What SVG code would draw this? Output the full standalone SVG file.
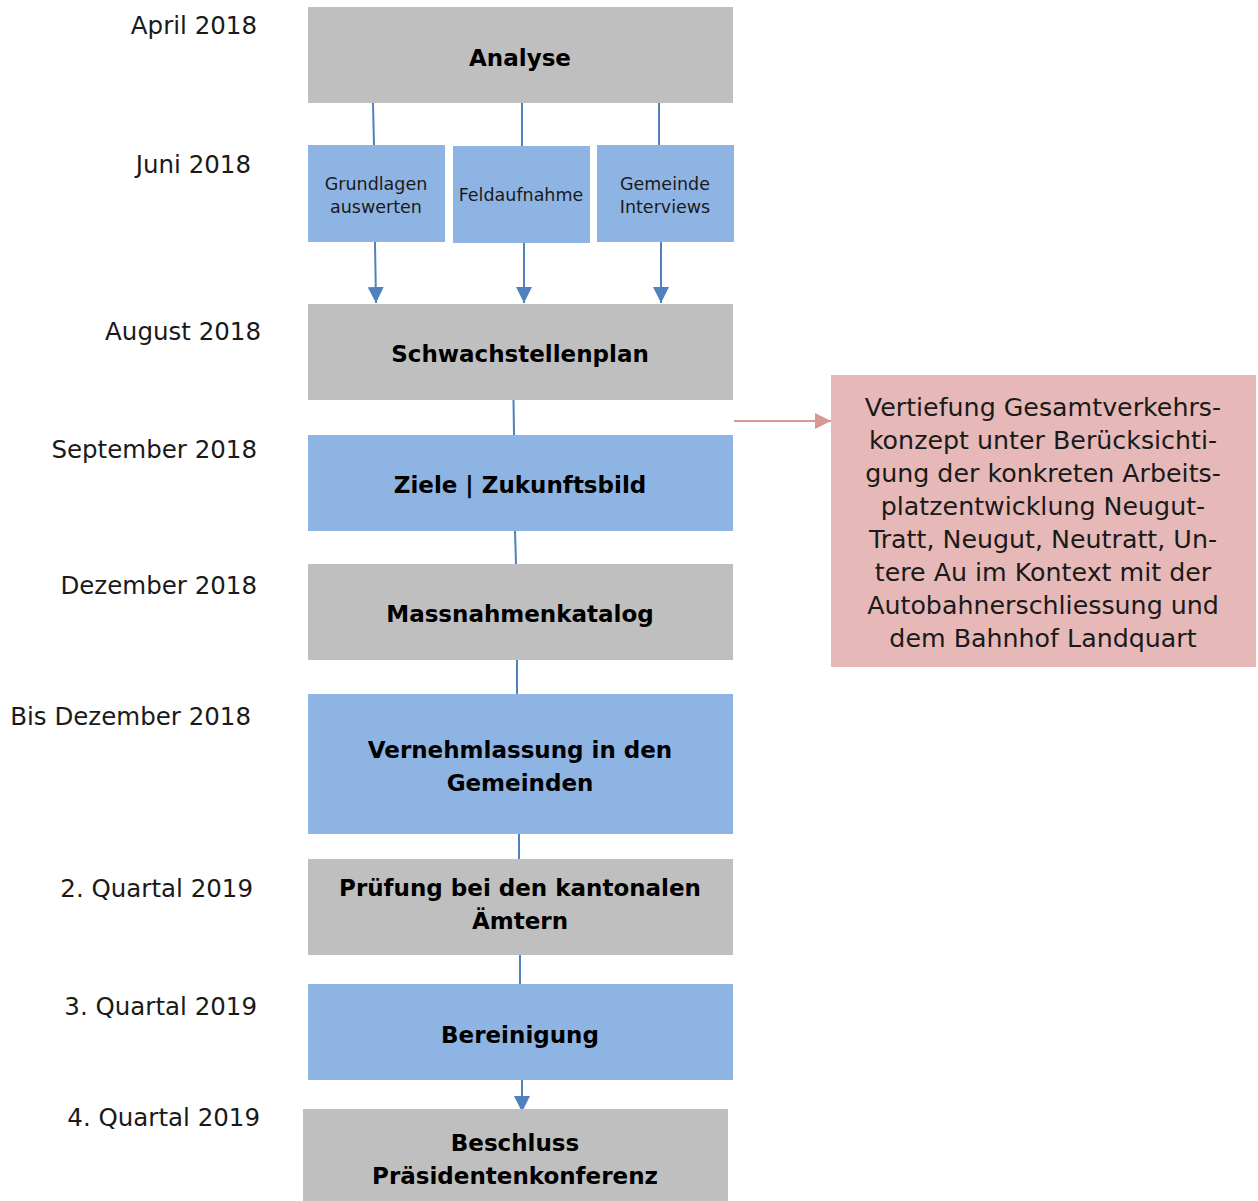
<svg xmlns="http://www.w3.org/2000/svg" width="1258" height="1201" viewBox="0 0 1258 1201">
<style>
.gray{fill:#BFBFBF}
.blue{fill:#8EB4E3}
.pink{fill:#E6B9B8}
.date{font-family:"DejaVu Sans",sans-serif;font-size:24.5px;fill:#1a1a1a;text-anchor:end}
.bt{font-family:"DejaVu Sans",sans-serif;font-size:23px;font-weight:bold;fill:#000;text-anchor:middle}
.st{font-family:"DejaVu Sans",sans-serif;font-size:17.5px;fill:#1a1a1a;text-anchor:middle}
.pt{font-family:"DejaVu Sans",sans-serif;font-size:25.3px;fill:#1a1a1a;text-anchor:middle}
.ln{stroke:#4F81BD;stroke-width:2;fill:none}
.lp{stroke:#D99694;stroke-width:2;fill:none}
</style>
<defs>
<marker id="ab" viewBox="0 0 16 16" refX="16" refY="8" markerWidth="16" markerHeight="16" markerUnits="userSpaceOnUse" orient="auto"><path d="M0,0 L16,8 L0,16 Z" fill="#4F81BD"/></marker>
<marker id="ap" viewBox="0 0 16 16" refX="16" refY="8" markerWidth="16" markerHeight="16" markerUnits="userSpaceOnUse" orient="auto"><path d="M0,0 L16,8 L0,16 Z" fill="#D99694"/></marker>
</defs>
<rect width="1258" height="1201" fill="#fff"/>
<g id="dates">
<text class="date" x="257" y="34">April 2018</text>
<text class="date" x="251" y="173">Juni 2018</text>
<text class="date" x="261" y="340">August 2018</text>
<text class="date" x="257" y="458">September 2018</text>
<text class="date" x="257" y="594">Dezember 2018</text>
<text class="date" x="251" y="725">Bis Dezember 2018</text>
<text class="date" x="253" y="897">2. Quartal 2019</text>
<text class="date" x="257" y="1015">3. Quartal 2019</text>
<text class="date" x="260" y="1126">4. Quartal 2019</text>
</g>
<g id="connectors">
<line class="ln" x1="373" y1="103" x2="374" y2="145"/>
<line class="ln" x1="522" y1="103" x2="522" y2="146"/>
<line class="ln" x1="659" y1="103" x2="659" y2="145"/>
<line class="ln" x1="375" y1="242" x2="376" y2="303" marker-end="url(#ab)"/>
<line class="ln" x1="524" y1="243" x2="524" y2="303" marker-end="url(#ab)"/>
<line class="ln" x1="661" y1="242" x2="661" y2="303" marker-end="url(#ab)"/>
<line class="ln" x1="513.5" y1="400" x2="514" y2="435"/>
<line class="ln" x1="515" y1="531" x2="516" y2="564"/>
<line class="ln" x1="517" y1="660" x2="517" y2="694"/>
<line class="ln" x1="519" y1="834" x2="519" y2="859"/>
<line class="ln" x1="520" y1="955" x2="520" y2="984"/>
<line class="ln" x1="522" y1="1080" x2="522" y2="1112" marker-end="url(#ab)"/>
<line class="lp" x1="734" y1="421" x2="831" y2="421" marker-end="url(#ap)"/>
</g>
<g id="analyse"><rect class="gray" x="308" y="7" width="425" height="96"/><text class="bt" x="520" y="66">Analyse</text></g>
<g id="grundlagen"><rect class="blue" x="308" y="145" width="137" height="97"/><text class="st" x="376" y="190">Grundlagen</text><text class="st" x="376" y="213">auswerten</text></g>
<g id="feldaufnahme"><rect class="blue" x="453" y="146" width="137" height="97"/><text class="st" x="521" y="201">Feldaufnahme</text></g>
<g id="gemeinde"><rect class="blue" x="597" y="145" width="137" height="97"/><text class="st" x="665" y="190">Gemeinde</text><text class="st" x="665" y="213">Interviews</text></g>
<g id="schwachstellenplan"><rect class="gray" x="308" y="304" width="425" height="96"/><text class="bt" x="520" y="362">Schwachstellenplan</text></g>
<g id="ziele"><rect class="blue" x="308" y="435" width="425" height="96"/><text class="bt" x="520" y="493">Ziele | Zukunftsbild</text></g>
<g id="massnahmen"><rect class="gray" x="308" y="564" width="425" height="96"/><text class="bt" x="520" y="622">Massnahmenkatalog</text></g>
<g id="vernehmlassung"><rect class="blue" x="308" y="694" width="425" height="140"/><text class="bt" x="520" y="758">Vernehmlassung in den</text><text class="bt" x="520" y="791">Gemeinden</text></g>
<g id="pruefung"><rect class="gray" x="308" y="859" width="425" height="96"/><text class="bt" x="520" y="896">Prüfung bei den kantonalen</text><text class="bt" x="520" y="929">Ämtern</text></g>
<g id="bereinigung"><rect class="blue" x="308" y="984" width="425" height="96"/><text class="bt" x="520" y="1043">Bereinigung</text></g>
<g id="beschluss"><rect class="gray" x="303" y="1109" width="425" height="92"/><text class="bt" x="515" y="1151">Beschluss</text><text class="bt" x="515" y="1184">Präsidentenkonferenz</text></g>
<g id="vertiefung"><rect class="pink" x="831" y="375" width="425" height="292"/>
<text class="pt" x="1043" y="416">Vertiefung Gesamtverkehrs-</text>
<text class="pt" x="1043" y="449">konzept unter Berücksichti-</text>
<text class="pt" x="1043" y="482">gung der konkreten Arbeits-</text>
<text class="pt" x="1043" y="515">platzentwicklung Neugut-</text>
<text class="pt" x="1043" y="548">Tratt, Neugut, Neutratt, Un-</text>
<text class="pt" x="1043" y="581">tere Au im Kontext mit der</text>
<text class="pt" x="1043" y="614">Autobahnerschliessung und</text>
<text class="pt" x="1043" y="647">dem Bahnhof Landquart</text>
</g>
</svg>
